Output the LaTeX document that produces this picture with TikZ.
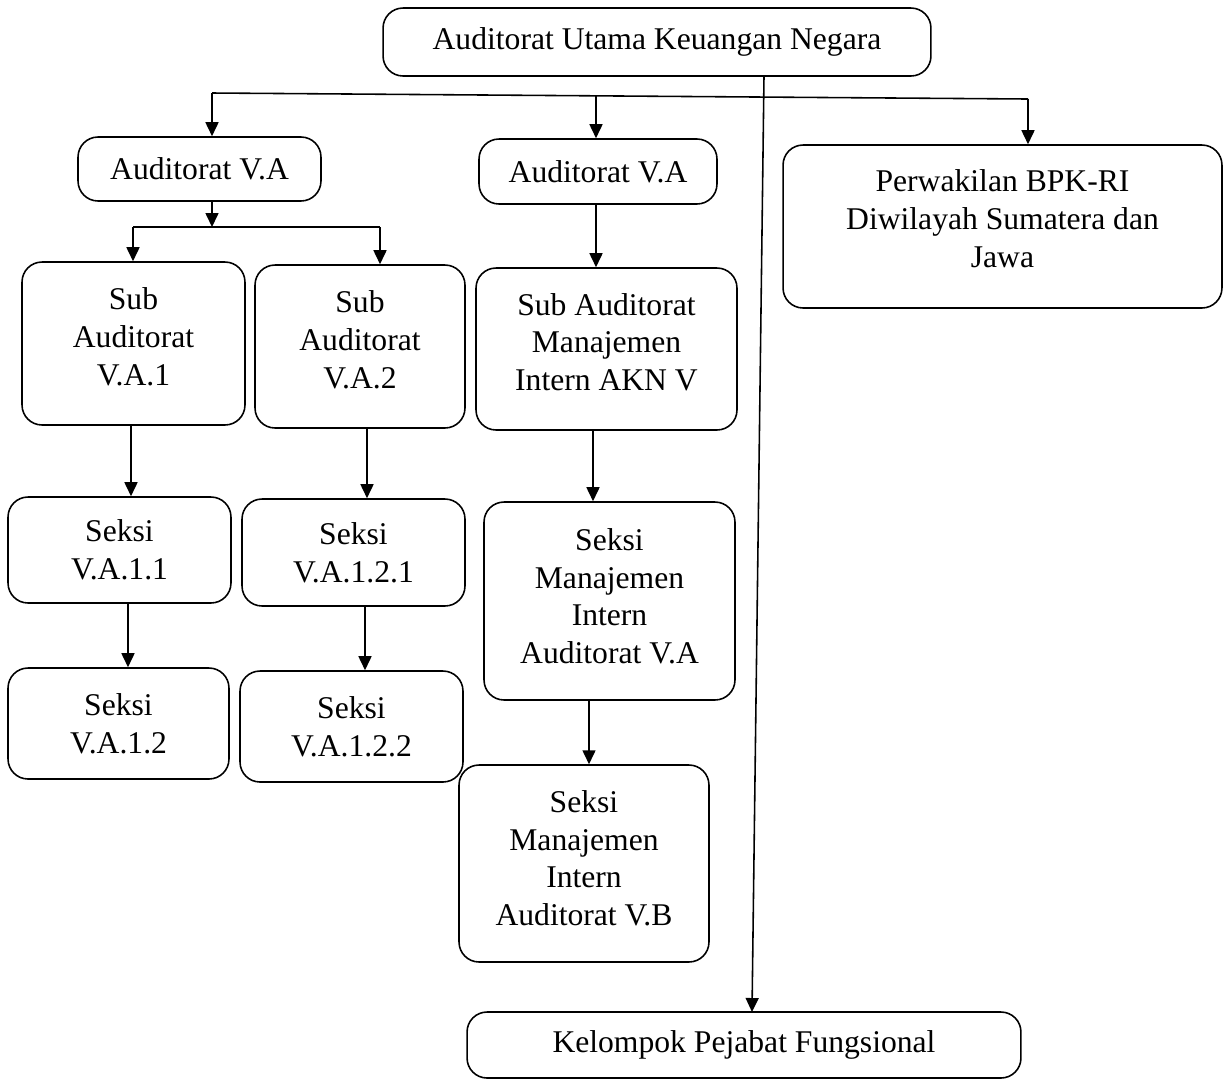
\documentclass[tikz,border=0pt]{standalone}
\usepackage{fontspec}
\setmainfont{Liberation Serif}
\usetikzlibrary{arrows.meta,calc}
\begin{document}
\begin{tikzpicture}[x=0.02cm,y=-0.02cm,
  box/.style={draw,line width=0.9pt,rounded corners=0.4cm,align=center,inner sep=0pt,
    font=\fontsize{18}{21.6}\selectfont},
  raise/.style={text depth=#1},
  arr/.style={line width=0.9pt,-{Triangle[length=0.28cm,width=0.26cm]}},
  ln/.style={line width=0.9pt}]
\useasboundingbox (0,0) rectangle (1227,1080);
\node[box,minimum width=10.96cm,minimum height=1.36cm] (top) at (657,42) {Auditorat Utama Keuangan Negara};
\node[box,minimum width=4.86cm,minimum height=1.28cm] (lva) at (199.5,169) {Auditorat V.A};
\node[box,minimum width=4.76cm,minimum height=1.30cm] (mva) at (598,171.5) {Auditorat V.A};
\node[box,raise=0.32cm,minimum width=8.78cm,minimum height=3.26cm] (perw) at (1002.5,226.5) {Perwakilan BPK-RI\\Diwilayah Sumatera dan\\Jawa};
\node[box,raise=0.28cm,minimum width=4.46cm,minimum height=3.26cm] (sub1) at (133.5,343.5) {Sub\\Auditorat\\V.A.1};
\node[box,raise=0.28cm,minimum width=4.20cm,minimum height=3.26cm] (sub2) at (360,346.5) {Sub\\Auditorat\\V.A.2};
\node[box,raise=0.28cm,minimum width=5.22cm,minimum height=3.24cm] (subm) at (606.5,349) {Sub Auditorat\\Manajemen\\Intern AKN V};
\node[box,minimum width=4.46cm,minimum height=2.12cm] (s11) at (119.5,550) {Seksi\\V.A.1.1};
\node[box,minimum width=4.46cm,minimum height=2.14cm] (s121) at (353.5,552.5) {Seksi\\V.A.1.2.1};
\node[box,raise=0.2cm,minimum width=5.02cm,minimum height=3.96cm] (smA) at (609.5,601) {Seksi\\Manajemen\\Intern\\Auditorat V.A};
\node[box,minimum width=4.42cm,minimum height=2.22cm] (s12) at (118.5,723.5) {Seksi\\V.A.1.2};
\node[box,minimum width=4.46cm,minimum height=2.22cm] (s122) at (351.5,726.5) {Seksi\\V.A.1.2.2};
\node[box,raise=0.22cm,minimum width=5.00cm,minimum height=3.94cm] (smB) at (584,863.5) {Seksi\\Manajemen\\Intern\\Auditorat V.B};
\node[box,minimum width=11.08cm,minimum height=1.32cm] (kel) at (744,1045) {Kelompok Pejabat Fungsional};

% main trunk and top branch
\coordinate (t1) at (764,76);
\coordinate (t2) at (752,1012);
\draw[arr] (t1) -- (t2);
\coordinate (h1) at (212,93);
\coordinate (h2) at (596,96);
\coordinate (h3) at (1028,99);
\draw[ln] (h1) -- (h3);
\draw[arr] (h1) -- (h1 |- lva.north);
\draw[arr] (h2) -- (h2 |- mva.north);
\draw[arr] (h3) -- (h3 |- perw.north);

% left branch
\coordinate (b0) at (212,227);
\coordinate (b1) at (133,227);
\coordinate (b2) at (380,227);
\draw[arr] (b0 |- lva.south) -- (b0);
\draw[ln] (b1) -- (b2);
\draw[arr] (b1) -- (b1 |- sub1.north);
\draw[arr] (b2) -- (b2 |- sub2.north);

% middle branch
\draw[arr] (mva.south -| h2) -- (h2 |- subm.north);

% columns
\coordinate (c1) at (131,0);
\coordinate (c2) at (128,0);
\coordinate (c3) at (367,0);
\coordinate (c4) at (365,0);
\coordinate (c5) at (593,0);
\coordinate (c6) at (589,0);
\draw[arr] (c1 |- sub1.south) -- (c1 |- s11.north);
\draw[arr] (c2 |- s11.south) -- (c2 |- s12.north);
\draw[arr] (c3 |- sub2.south) -- (c3 |- s121.north);
\draw[arr] (c4 |- s121.south) -- (c4 |- s122.north);
\draw[arr] (c5 |- subm.south) -- (c5 |- smA.north);
\draw[arr] (c6 |- smA.south) -- (c6 |- smB.north);
\end{tikzpicture}
\end{document}
